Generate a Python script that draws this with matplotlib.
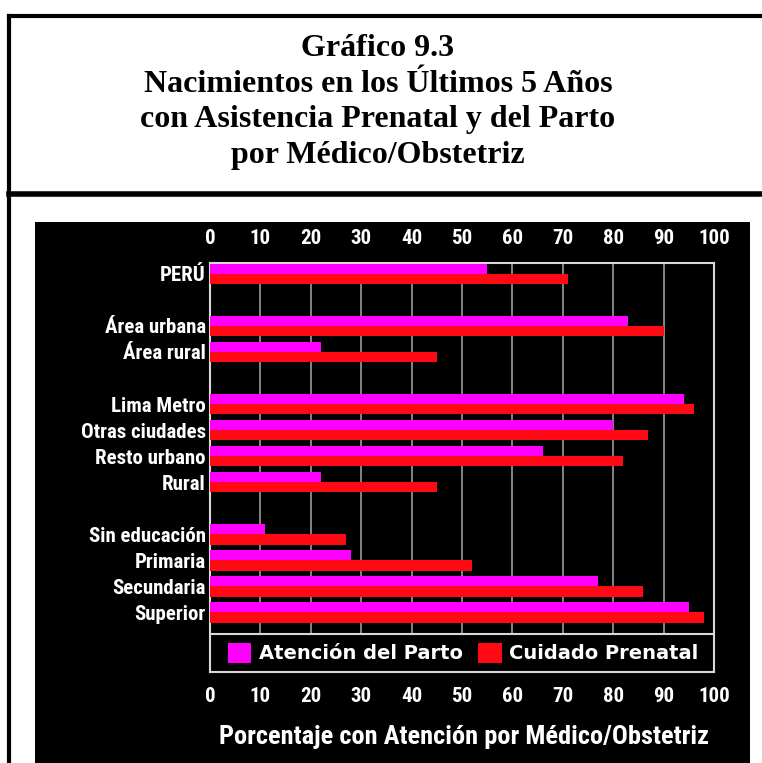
import matplotlib
matplotlib.use("Agg")
import matplotlib.pyplot as plt
from matplotlib import font_manager
from matplotlib.patches import Rectangle, Patch
from matplotlib.lines import Line2D

categories = ["PERÚ", "Área urbana", "Área rural", "Lima Metro", "Otras ciudades",
              "Resto urbano", "Rural", "Sin educación", "Primaria", "Secundaria", "Superior"]
slots = [0, 2, 3, 5, 6, 7, 8, 10, 11, 12, 13]
parto = [55, 83, 22, 94, 80, 66, 22, 11, 28, 77, 95]
prenatal = [71, 90, 45, 96, 87, 82, 45, 27, 52, 86, 98]
xticks = [0, 10, 20, 30, 40, 50, 60, 70, 80, 90, 100]

def pick(fams):
    for f in fams:
        try:
            font_manager.findfont(font_manager.FontProperties(family=f), fallback_to_default=False)
            return f
        except Exception:
            pass
    return "DejaVu Sans"

narrow = pick(["Liberation Sans Narrow", "Roboto Condensed", "Liberation Sans"])
wide = pick(["DejaVu Sans", "Liberation Sans"])
serif = pick(["Liberation Serif", "DejaVu Serif"])

W, H = 762, 763
fig = plt.figure(figsize=(W / 100, H / 100), dpi=100)
fig.patch.set_facecolor("white")

def fx(px): return px / W
def fy(py): return 1 - py / H

# frame lines
fig.add_artist(Line2D([fx(9), fx(9)], [fy(16), 0], color="black", lw=3))
fig.add_artist(Line2D([fx(9), 1], [fy(16), fy(16)], color="black", lw=3))
fig.add_artist(Line2D([fx(9), 1], [fy(194), fy(194)], color="black", lw=4))

# title
title_lines = ["Gráfico 9.3", "Nacimientos en los Últimos 5 Años",
               "con Asistencia Prenatal y del Parto", "por Médico/Obstetriz"]
for i, t in enumerate(title_lines):
    fig.text(fx(378), fy(49 + i * 35.5), t, ha="center", va="center",
             family=serif, fontweight="bold", fontsize=23)

# black panel
fig.add_artist(Rectangle((fx(35), 0), fx(750) - fx(35), fy(222), transform=fig.transFigure,
                         facecolor="black", edgecolor="none", zorder=0))

ax_top, ax_bot = 263, 672
ax = fig.add_axes([fx(210), fy(ax_bot), fx(714) - fx(210), (ax_bot - ax_top) / H])
ax.set_facecolor("black")
h = 0.4
ax.barh([s - h / 2 for s in slots], parto, height=h, color="#FF00FF", zorder=3)
ax.barh([s + h / 2 for s in slots], prenatal, height=h, color="#FF0A14", zorder=3)
ax.set_xlim(0, 100)
ax.set_ylim(15.3, -0.42)
ax.set_yticks(slots)
ax.set_yticklabels(categories, family=narrow, fontweight="bold", fontsize=15, color="white")
ax.set_xticks(xticks)
ax.set_xticklabels([str(v) for v in xticks], family=narrow, fontweight="bold", fontsize=15, color="white")
ax.tick_params(axis="x", length=0, pad=11, labeltop=True, labelbottom=True)
ax.tick_params(axis="y", length=0, pad=3)
ax.grid(axis="x", color="#9a9a9a", lw=1.2, zorder=1)
for sp in ax.spines.values():
    sp.set_color("#d8d8d8")
    sp.set_linewidth(1.5)

# legend box spanning the plot width
leg_h = 38 / (ax_bot - ax_top)
ax.add_patch(Rectangle((0, 0), 1, leg_h, transform=ax.transAxes, facecolor="black",
                       edgecolor="#d8d8d8", lw=1.5, zorder=4))
handles = [Patch(facecolor="#FF00FF", edgecolor="none"), Patch(facecolor="#FF0A14", edgecolor="none")]
leg = ax.legend(handles, ["Atención del Parto", "Cuidado Prenatal"], ncol=2,
                loc="center left", bbox_to_anchor=(0.0, leg_h / 2), borderaxespad=0.5,
                frameon=False, prop={"family": wide, "weight": "bold", "size": 14},
                labelcolor="white", handlelength=1.2, handleheight=1.2, handletextpad=0.4,
                columnspacing=0.8)
leg.set_zorder(6)

fig.text(fx(464), fy(737), "Porcentaje con Atención por Médico/Obstetriz", ha="center", va="center",
         family=narrow, fontweight="bold", fontsize=19, color="white")

fig.savefig("out.png", dpi=100, facecolor="white")
